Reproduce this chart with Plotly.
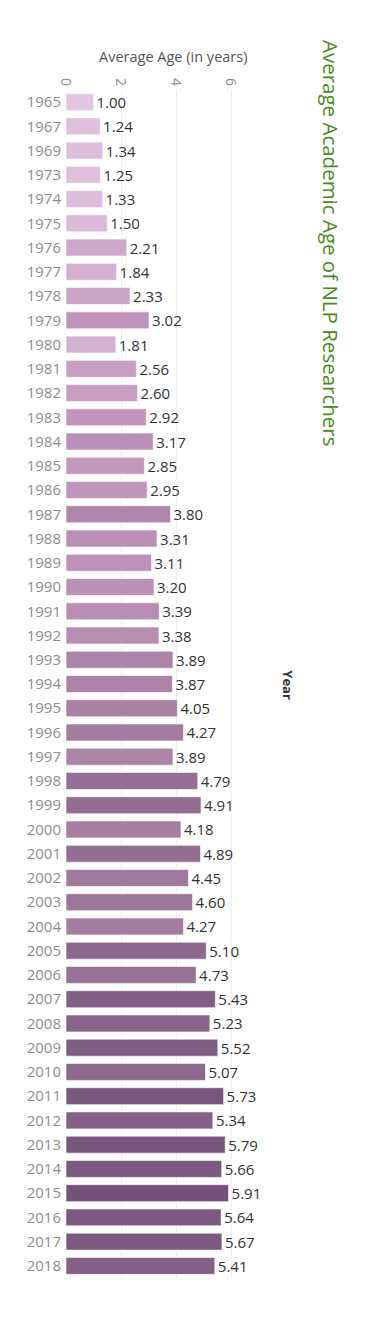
import plotly.graph_objects as go

years = ["1965", "1967", "1969", "1973", "1974", "1975", "1976", "1977", "1978", "1979",
         "1980", "1981", "1982", "1983", "1984", "1985", "1986", "1987", "1988", "1989",
         "1990", "1991", "1992", "1993", "1994", "1995", "1996", "1997", "1998", "1999",
         "2000", "2001", "2002", "2003", "2004", "2005", "2006", "2007", "2008", "2009",
         "2010", "2011", "2012", "2013", "2014", "2015", "2016", "2017", "2018"]
avg_age = [1.00, 1.24, 1.34, 1.25, 1.33, 1.50, 2.21, 1.84, 2.33, 3.02,
           1.81, 2.56, 2.60, 2.92, 3.17, 2.85, 2.95, 3.80, 3.31, 3.11,
           3.20, 3.39, 3.38, 3.89, 3.87, 4.05, 4.27, 3.89, 4.79, 4.91,
           4.18, 4.89, 4.45, 4.60, 4.27, 5.10, 4.73, 5.43, 5.23, 5.52,
           5.07, 5.73, 5.34, 5.79, 5.66, 5.91, 5.64, 5.67, 5.41]
x_ticks = [0, 2, 4, 6]

FONT = "Open Sans"

fig = go.Figure(go.Bar(
    x=avg_age, y=years, orientation="h",
    marker=dict(
        color=avg_age, cmin=1.0, cmax=5.91,
        colorscale=[[0.0, "#e2c6e1"], [0.4, "#c195bb"], [0.7, "#a07a9c"], [1.0, "#74527a"]],
        line=dict(color="rgba(255,255,255,0.6)", width=1),
    ),
    text=[f"{v:.2f}" for v in avg_age],
    textposition="outside",
    constraintext="none",
    textfont=dict(family=FONT, size=15, color="#333333"),
    cliponaxis=False,
    hoverinfo="skip",
))

fig.update_layout(
    width=382, height=1320,
    margin=dict(l=58, r=110, t=82, b=50),
    paper_bgcolor="white", plot_bgcolor="white",
    bargap=0.3,
    showlegend=False,
    font=dict(family=FONT),
    xaxis=dict(
        side="top", range=[0, 7.78], tickvals=x_ticks, tickangle=90,
        tickfont=dict(family=FONT, size=14, color="#8a8a8a"),
        showgrid=True, gridcolor="#efefef", gridwidth=1,
        zeroline=False, showline=False, ticks="", automargin=False,
        ticklabelstandoff=1,
    ),
    yaxis=dict(
        type="category", categoryorder="array", categoryarray=years,
        autorange="reversed",
        tickfont=dict(family=FONT, size=15, color="#8d8d8d"),
        showgrid=False, zeroline=False, showline=False, ticks="",
        ticklabelstandoff=4, automargin=False,
    ),
    annotations=[
        dict(text="Average Age (in years)", xref="paper", yref="paper",
             x=0.5, y=1.0278, xanchor="center", yanchor="middle", showarrow=False,
             font=dict(family=FONT, size=14.5, color="#555555")),
        dict(text="<b>Year</b>", xref="paper", yref="paper",
             x=1.037, y=0.499, xanchor="center", yanchor="middle", showarrow=False,
             textangle=90, font=dict(family=FONT, size=13, color="#333333")),
        dict(text="Average Academic Age of NLP Researchers", xref="paper", yref="paper",
             x=1.235, y=0.871, xanchor="center", yanchor="middle", showarrow=False,
             textangle=90, font=dict(family=FONT, size=20.5, color="#4a8a18")),
    ],
)

fig.write_html("out.html")
